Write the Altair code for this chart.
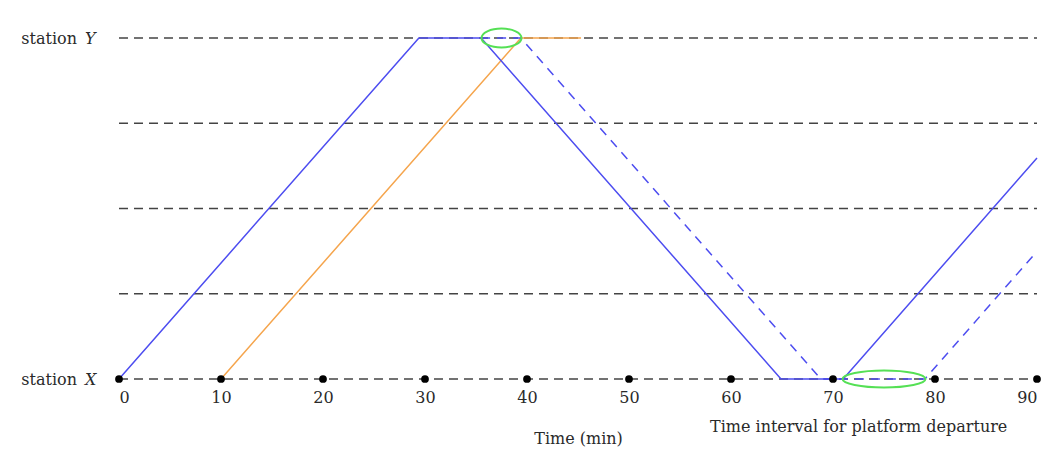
import altair as alt
import pandas as pd

# Train paths: time (min) vs. position between station X (0) and station Y (1)
blue_t = [0, 29.4, 35.5, 64.9, 71, 90]
blue_pos = [0, 1, 1, 0, 0, 0.648]
blue_dash_t = [35.5, 39.4, 68.8, 79, 90]
blue_dash_pos = [1, 1, 0, 0, 0.374]
orange_t = [10, 39.4, 45.3]
orange_pos = [0, 1, 1]

track_levels = [0, 0.25, 0.5, 0.75, 1]
tick_values = [0, 10, 20, 30, 40, 50, 60, 70, 80, 90]

# highlighted departure windows (centre time, level)
window_t = [37.5, 75.0]
window_pos = [1, 0]

FONT = "DejaVu Serif"
FS = 16
INK = "#2a2a2a"
BLUE = "#4d4df0"
ORANGE = "#f5a54d"
GREEN = "#55e055"


def ellipse_path(r):
    """Unit-width ellipse outline (half-height r) built from cubic Beziers."""
    k = 0.5523
    kr = round(k * r, 4)
    return (f"M-1,0 C-1,{-kr} {-k},{-r} 0,{-r} C{k},{-r} 1,{-kr} 1,0 "
            f"C1,{kr} {k},{r} 0,{r} C{-k},{r} -1,{kr} -1,0 Z")


def path_df(ts, ps):
    return pd.DataFrame({"t": ts, "pos": ps, "i": list(range(len(ts)))})


xs = alt.Scale(domain=[0, 90], nice=False, zero=False)
ys = alt.Scale(domain=[0, 1], nice=False)

x_axis = alt.Axis(values=tick_values, grid=False, domain=False, ticks=False,
                  labelPadding=10, labelFont=FONT, labelFontSize=FS,
                  labelColor=INK, title="Time (min)", titleFont=FONT,
                  titleFontSize=FS, titleFontWeight="normal", titleColor=INK,
                  titlePadding=25)


def X():
    return alt.X("t:Q", scale=xs, axis=x_axis)


def Y():
    return alt.Y("pos:Q", scale=ys, axis=None)


rules = alt.Chart(pd.DataFrame({"pos": track_levels})).mark_rule(
    color="#444444", strokeWidth=1.6, strokeDash=[9, 6]
).encode(y=Y(), x=alt.value(0), x2=alt.value(918))

blue = alt.Chart(path_df(blue_t, blue_pos)).mark_line(
    color=BLUE, strokeWidth=1.5
).encode(x=X(), y=Y(), order=alt.Order("i:Q"))

blue_dash = alt.Chart(path_df(blue_dash_t, blue_dash_pos)).mark_line(
    color=BLUE, strokeWidth=1.5, strokeDash=[9, 7]
).encode(x=X(), y=Y(), order=alt.Order("i:Q"))

orange = alt.Chart(path_df(orange_t, orange_pos)).mark_line(
    color=ORANGE, strokeWidth=1.5
).encode(x=X(), y=Y(), order=alt.Order("i:Q"))

dots = alt.Chart(pd.DataFrame({"t": tick_values, "pos": [0] * len(tick_values)})).mark_point(
    filled=True, color="black", size=60, opacity=1
).encode(x=X(), y=Y())

ell_small = alt.Chart(pd.DataFrame({"t": [window_t[0]], "pos": [window_pos[0]]})).mark_point(
    shape=ellipse_path(0.47),
    filled=False, stroke=GREEN, strokeWidth=2, size=1600, opacity=1
).encode(x=X(), y=Y())

ell_wide = alt.Chart(pd.DataFrame({"t": [window_t[1]], "pos": [window_pos[1]]})).mark_point(
    shape=ellipse_path(0.205),
    filled=False, stroke=GREEN, strokeWidth=2, size=6889, opacity=1
).encode(x=X(), y=Y())

stations = pd.DataFrame({"pos": [1, 0], "name": ["Y", "X"], "word": ["station", "station"]})
station_word = alt.Chart(stations).mark_text(
    align="right", baseline="alphabetic", dy=6, font=FONT, fontSize=FS, color=INK
).encode(y=Y(), x=alt.value(-42), text="word:N")
station_name = alt.Chart(stations).mark_text(
    align="left", baseline="alphabetic", dy=6, font=FONT, fontSize=FS,
    fontStyle="italic", color=INK
).encode(y=Y(), x=alt.value(-34), text="name:N")

note = alt.Chart(pd.DataFrame({"txt": ["Time interval for platform departure"]})).mark_text(
    align="left", baseline="alphabetic", font=FONT, fontSize=FS, color=INK
).encode(x=alt.value(591), y=alt.value(394), text="txt:N")

chart = alt.layer(
    rules, orange, blue_dash, blue, dots, ell_small, ell_wide,
    station_word, station_name, note
).properties(
    width=918, height=341,
    autosize=alt.AutoSizeParams(type="none"),
    padding={"left": 119, "top": 38, "right": 22, "bottom": 71},
).configure_view(stroke=None)

chart.save("out.html", embed_options={"renderer": "svg", "actions": False})
